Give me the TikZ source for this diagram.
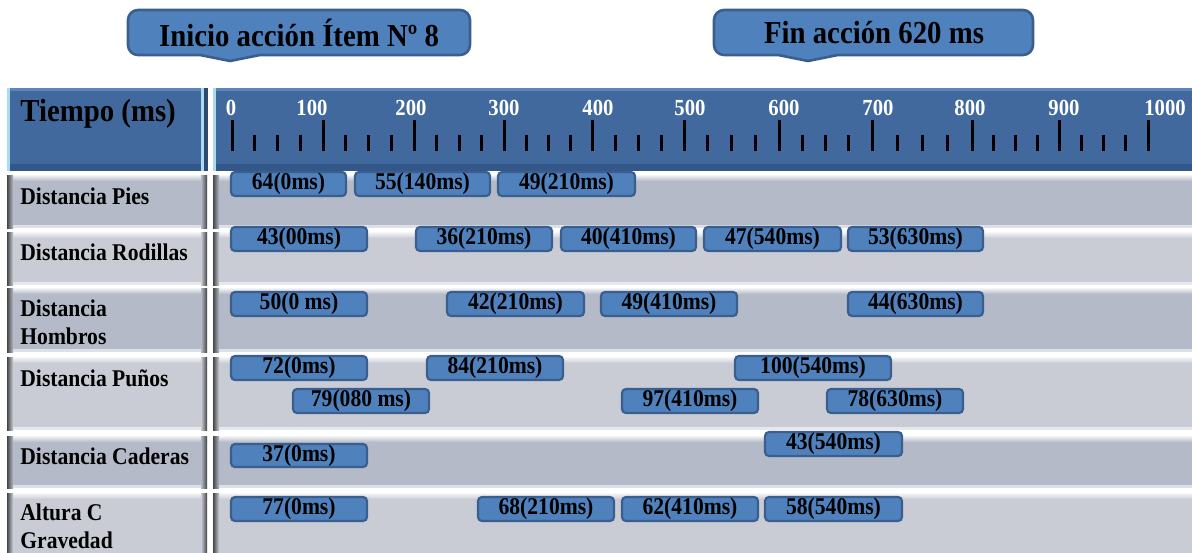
\documentclass[tikz,border=0pt]{standalone}
\usepackage{fontspec}
\setmainfont{Liberation Serif}[FakeStretch=0.9]
\definecolor{hdr}{HTML}{41699D}
\definecolor{hdrdark}{HTML}{34578A}
\definecolor{hdrtop}{HTML}{5B86BA}
\definecolor{hdredge}{HTML}{A8DDF0}
\definecolor{barfill}{HTML}{4F81BD}
\definecolor{bardraw}{HTML}{3A5F8E}
\definecolor{rowdark}{HTML}{B4BAC7}
\definecolor{rowlight}{HTML}{C9CCD4}
\definecolor{edgedark}{HTML}{454545}
\definecolor{navyline}{HTML}{2E4A70}
\tikzset{
  evbox/.style={draw=bardraw, fill=barfill, line width=1.1pt, rounded corners=2pt,
    inner sep=0pt, text=black, font=\bfseries\fontsize{12}{13}\selectfont},
  callout/.style={draw=bardraw, fill=barfill, line width=1.3pt},
  callouttext/.style={inner sep=0pt, text=black, font=\bfseries\fontsize{16}{18}\selectfont},
  rowlabel/.style={anchor=west, align=left, inner sep=0pt, text=black,
    font=\bfseries\fontsize{12}{14}\selectfont},
  ticklbl/.style={inner sep=0pt, text=white, font=\bfseries\fontsize{11.5}{12}\selectfont},
  majortick/.style={line width=1.5pt, black},
  minortick/.style={line width=1.5pt, black}
}
\newcommand\evbar[6]{%
  \node[evbox, minimum width={(#3-#2)*0.5pt}, minimum height={(#5-#4)*0.5pt}]
    (#1) at ({(#2+#3)/2},{(#4+#5)/2}) {#6};}
\begin{document}
\begin{tikzpicture}[x=0.5pt,y=-0.5pt]
\useasboundingbox (0,0) rectangle (1192,552);
\fill[white] (0,0) rectangle (1192,552);

% ---- callouts
\draw[callout] (299,10) [rounded corners=5pt] -- (470,10) -- (470,55) -- (400,55)
  [sharp corners] -- (260,55) -- (230,61) -- (200,55) -- (170,55)
  [rounded corners=5pt] -- (128,55) -- (128,10) -- cycle;
\node[callouttext] (inicio) at (299,33) {Inicio acción Ítem Nº 8};
\draw[callout] (874,10) [rounded corners=5pt] -- (1033,10) -- (1033,55) -- (980,55)
  [sharp corners] -- (838,55) -- (808,61) -- (778,55) -- (760,55)
  [rounded corners=5pt] -- (714,55) -- (714,10) -- cycle;
\node[callouttext] (fin) at (874,33) {Fin acción 620 ms};

% ---- header
\fill[hdr] (7,88) rectangle (208,171);
\fill[hdrtop] (7,88) rectangle (208,91);
\fill[hdrdark] (7,164) rectangle (208,171);
\fill[hdredge] (7,88) rectangle (10,171);
\fill[hdredge] (201,88) rectangle (204,171);
\fill[navyline] (204,88) rectangle (208,171);
\fill[hdr] (213,88) rectangle (1192,171);
\fill[hdrtop] (213,88) rectangle (1192,91);
\fill[hdrdark] (213,164) rectangle (1192,171);
\fill[hdredge] (213,88) rectangle (216,171);
\node[anchor=west, inner sep=0pt, text=black, font=\bfseries\fontsize{16}{18}\selectfont]
  (tiempo) at (20,114) {Tiempo (ms)};

% ---- axis ticks
\foreach \a/\b in {232/323,323/414,414/504,504/592,592/684,684/779,779/872,872/972,972/1059,1059/1148}{
  \foreach \k in {1,2,3}{
    \draw[minortick] ({\a+\k*(\b-\a)/4},135) -- ({\a+\k*(\b-\a)/4},151);
  }
}
\foreach \x in {232,323,414,504,592,684,779,872,972,1059,1148}{
  \draw[majortick] (\x,120) -- (\x,151);
}
\foreach \x/\v in {231/0,312/100,411/200,504/300,598/400,690/500,784/600,878/700,970/800,1064/900,1165/1000}{
  \node[ticklbl] (t\v) at (\x,108) {\v};
}

% ---- rows
\foreach \t/\b/\c in {175/228/rowdark,232/285/rowlight,288/352/rowdark,357/430/rowlight,436/488/rowdark,493/556/rowlight}{
  % label cell
  \fill[\c] (7,\t) rectangle (207,\b);
  \shade[top color=white!85!\c, bottom color=\c] (7,\t) rectangle (207,\t+6);
  \fill[white!55!\c] (7,\b-3) rectangle (207,\b);
  \shade[left color=edgedark, right color=\c] (7,\t) rectangle (13,\b);
  \shade[left color=\c, right color=edgedark] (201,\t) rectangle (207,\b);
  % data band
  \fill[\c] (213,\t) rectangle (1192,\b);
  \shade[top color=white!85!\c, bottom color=\c] (213,\t) rectangle (1192,\t+6);
  \fill[white!55!\c] (213,\b-3) rectangle (1192,\b);
  \shade[left color=edgedark, right color=\c] (213,\t) rectangle (219,\b);
}

% ---- row labels
\node[rowlabel] (lpies) at (20,196) {Distancia Pies};
\node[rowlabel] (lrod) at (20,252) {Distancia Rodillas};
\node[rowlabel] (lhom) at (20,322) {Distancia\\Hombros};
\node[rowlabel] (lpun) at (20,378) {Distancia Puños};
\node[rowlabel] (lcad) at (20,456) {Distancia Caderas};
\node[rowlabel] (lalt) at (20,526) {Altura C\\Gravedad};

% ---- events
\evbar{p1}{231}{346}{172}{196}{64(0ms)}
\evbar{p2}{355}{490}{172}{196}{55(140ms)}
\evbar{p3}{498}{635}{172}{196}{49(210ms)}

\evbar{r1}{231}{367}{227}{251}{43(00ms)}
\evbar{r2}{416}{552}{227}{251}{36(210ms)}
\evbar{r3}{561}{696}{227}{251}{40(410ms)}
\evbar{r4}{704}{841}{227}{251}{47(540ms)}
\evbar{r5}{848}{983}{227}{251}{53(630ms)}

\evbar{h1}{231}{367}{292}{316}{50(0 ms)}
\evbar{h2}{447}{584}{292}{316}{42(210ms)}
\evbar{h3}{601}{737}{292}{316}{49(410ms)}
\evbar{h4}{848}{983}{292}{316}{44(630ms)}

\evbar{u1}{231}{367}{356}{380}{72(0ms)}
\evbar{u2}{427}{563}{356}{380}{84(210ms)}
\evbar{u3}{735}{891}{356}{380}{100(540ms)}
\evbar{u4}{293}{429}{389}{413}{79(080 ms)}
\evbar{u5}{622}{758}{389}{413}{97(410ms)}
\evbar{u6}{827}{963}{389}{413}{78(630ms)}

\evbar{c1}{231}{367}{444}{467}{37(0ms)}
\evbar{c2}{765}{902}{432}{456}{43(540ms)}

\evbar{g1}{231}{367}{497}{521}{77(0ms)}
\evbar{g2}{478}{614}{497}{521}{68(210ms)}
\evbar{g3}{622}{758}{497}{521}{62(410ms)}
\evbar{g4}{765}{902}{497}{521}{58(540ms)}
\end{tikzpicture}
\end{document}
